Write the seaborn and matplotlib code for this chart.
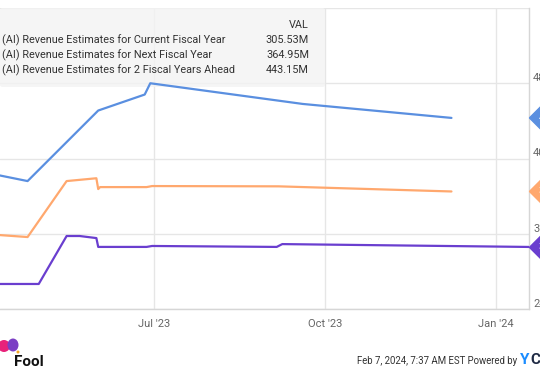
import pandas as pd
import matplotlib.pyplot as plt
import matplotlib.patches as mpatches
import seaborn as sns

# series data (values in millions)
blue_dates = ['2023-04-09', '2023-04-24', '2023-06-01', '2023-06-26', '2023-06-29',
              '2023-09-19', '2023-12-08']
blue_vals = [382, 376, 451, 468, 480, 458, 443.15]

orange_dates = ['2023-04-09', '2023-04-24', '2023-05-15', '2023-05-31', '2023-06-01',
                '2023-06-02', '2023-06-27', '2023-06-30', '2023-09-06', '2023-12-08']
orange_vals = [318.6, 316.5, 376, 379, 367.5, 369.6, 369.6, 370.7, 370.4, 364.95]

purple_dates = ['2023-04-09', '2023-04-30', '2023-05-15', '2023-05-22', '2023-05-31',
                '2023-06-01', '2023-06-27', '2023-06-30', '2023-09-05', '2023-09-08',
                '2024-02-07']
purple_vals = [266.6, 266.6, 317.6, 317.6, 315.4, 306, 306, 307, 306, 309, 305.53]

legend_names = ['(AI) Revenue Estimates for Current Fiscal Year',
                '(AI) Revenue Estimates for Next Fiscal Year',
                '(AI) Revenue Estimates for 2 Fiscal Years Ahead']
legend_vals = ['305.53M', '364.95M', '443.15M']
tag_vals = [443.15, 364.95, 305.53]

x_ticks = ['2023-07-01', '2023-10-01', '2024-01-01']
x_labels = ["Jul '23", "Oct '23", "Jan '24"]
y_ticks = [240, 320, 400, 480, 560]
y_labels = ['240.0M', '320.0M', '400.0M', '480.0M', '']

blue = '#5a8fe0'
orange = '#ffa86e'
purple = '#6a3ecf'

sns.set_style('white')
plt.rcParams['font.family'] = ['Roboto', 'DejaVu Sans']

W, H = 540, 370
fig = plt.figure(figsize=(W / 100, H / 100), dpi=100)
ax = fig.add_axes([0, 1 - 309 / H, 529 / W, (309 - 8) / H])

series = [(blue_dates, blue_vals, blue),
          (orange_dates, orange_vals, orange),
          (purple_dates, purple_vals, purple)]
for dates, vals, col in series:
    d = pd.DataFrame({'date': pd.to_datetime(dates), 'value': vals})
    sns.lineplot(data=d, x='date', y='value', ax=ax, color=col, linewidth=1.6, zorder=3)

ax.set_xlim(pd.Timestamp('2023-04-09 04:00'), pd.Timestamp('2024-01-18 17:00'))
ax.set_ylim(240, 560)
ax.set_xticks(pd.to_datetime(x_ticks))
ax.set_xticklabels(x_labels)
ax.set_yticks(y_ticks)
ax.set_yticklabels(y_labels)
ax.yaxis.tick_right()
ax.set_xlabel('')
ax.set_ylabel('')
ax.set_axisbelow(True)
ax.grid(True, color='#e6e6e6', linewidth=1)
ax.tick_params(axis='x', length=0, pad=7, labelsize=8, labelcolor='#666666')
ax.tick_params(axis='y', length=0, pad=3, labelsize=8, labelcolor='#666666')
for lbl in ax.get_yticklabels():
    lbl.set_va('bottom')
for s in ['left', 'top']:
    ax.spines[s].set_visible(False)
for s in ['right', 'bottom']:
    ax.spines[s].set_color('#d6d6d6')
    ax.spines[s].set_linewidth(1)

# value tags at right edge
for val, col in zip(tag_vals, [blue, orange, purple]):
    ax.annotate(f'{val:.2f}M', xy=(1, val), xycoords=('axes fraction', 'data'),
                xytext=(7, 0), textcoords='offset points', ha='left', va='center',
                color='white', fontsize=8, annotation_clip=False,
                bbox=dict(boxstyle='larrow,pad=0.3', fc=col, ec=col))

# legend table (behind the lines, grid shows through)
box = mpatches.FancyBboxPatch((0, 1 - 87 / H), 325 / W, 79 / H,
                              boxstyle='round,pad=0,rounding_size=0.005',
                              transform=fig.transFigure, fc='#f3f3f3', ec='none',
                              alpha=0.8, zorder=1.5)
ax.add_patch(box)
fig.text(309 / W, 1 - 25 / H, 'VAL', ha='right', va='center', fontsize=7.8,
         color='#333333', zorder=6)
for i, (name, v) in enumerate(zip(legend_names, legend_vals)):
    y = 1 - (40 + 15 * i) / H
    fig.text(2 / W, y, name, ha='left', va='center', fontsize=7.8, color='#333333', zorder=6)
    fig.text(309 / W, y, v, ha='right', va='center', fontsize=7.8, color='#333333', zorder=6)

# footer
fig.text(517 / W, 1 - 361 / H, 'Feb 7, 2024, 7:37 AM EST Powered by', ha='right',
         va='center', fontsize=6.9, color='#333333')
fig.text(520 / W, 1 - 360 / H, 'Y', ha='left', va='center', fontsize=11,
         fontweight='bold', color='#1a8cff')
fig.text(530 / W, 1 - 360 / H, 'CHARTS', ha='left', va='center', fontsize=11,
         fontweight='bold', color='#1f2a44')

# fool logo
fig.text(44 / W, 1 - 362 / H, 'Fool', ha='right', va='center', fontsize=11,
         fontweight='bold', color='#111111')
fig.add_artist(mpatches.Ellipse((4 / W, 1 - 346 / H), 12 / W, 12 / H,
                                transform=fig.transFigure, fc='#e8227a', ec='none'))
fig.add_artist(mpatches.Ellipse((13 / W, 1 - 345 / H), 11 / W, 13 / H,
                                transform=fig.transFigure, fc='#7b3fc4', ec='none'))
fig.add_artist(mpatches.Ellipse((18 / W, 1 - 352 / H), 3 / W, 3 / H,
                                transform=fig.transFigure, fc='#f5a623', ec='none'))

fig.savefig('out.png', dpi=100)
